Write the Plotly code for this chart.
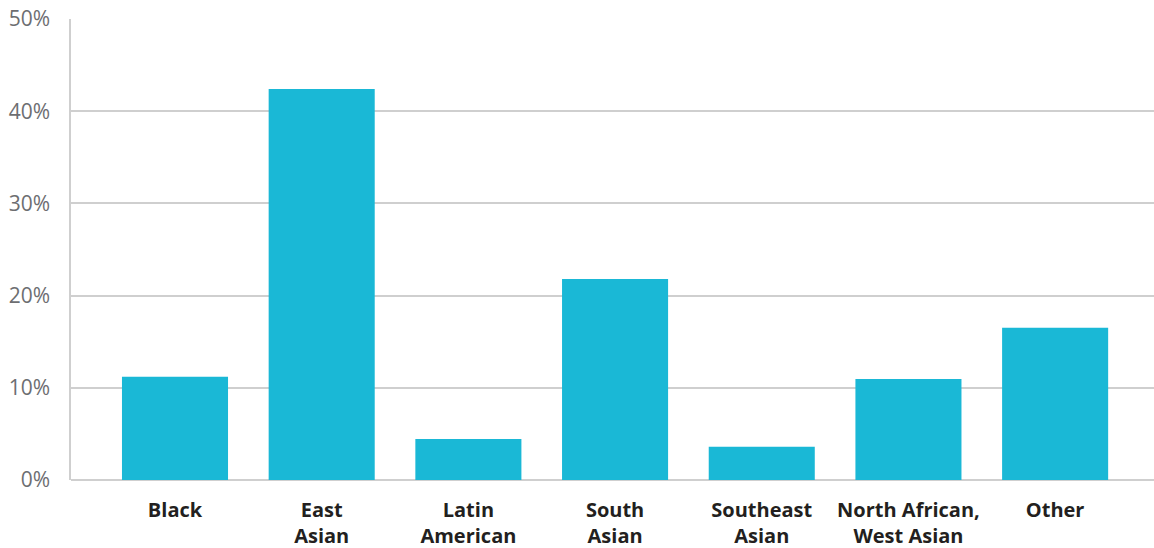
import plotly.graph_objects as go

categories = ["Black", "East<br>Asian", "Latin<br>American", "South<br>Asian",
              "Southeast<br>Asian", "North African,<br>West Asian", "Other"]
values = [11.2, 42.4, 4.45, 21.8, 3.6, 10.95, 16.5]
y_ticks = [0, 10, 20, 30, 40, 50]
y_tick_labels = ["0%", "10%", "20%", "30%", "40%", "50%"]

fig = go.Figure(go.Bar(
    x=list(range(len(categories))), y=values,
    marker=dict(color="#1ab8d6", line=dict(width=0)),
    hoverinfo="skip",
))

fig.update_layout(
    width=1154, height=548,
    margin=dict(l=71, r=0, t=19, b=68),
    paper_bgcolor="white", plot_bgcolor="white",
    bargap=0.277, showlegend=False,
    font=dict(family="Open Sans, Lato, sans-serif"),
)
fig.update_xaxes(
    range=[-0.709, 6.674], automargin=False,
    tickmode="array", tickvals=list(range(len(categories))), ticktext=categories,
    tickfont=dict(size=20, color="#231f20", family="Open Sans, sans-serif", weight="bold"),
    showgrid=False, zeroline=False, showline=False,
    ticks="outside", ticklen=12, tickcolor="rgba(0,0,0,0)",
)
fig.update_yaxes(
    range=[0, 50], automargin=False,
    tickmode="array", tickvals=y_ticks, ticktext=y_tick_labels,
    tickfont=dict(size=21, color="#6d6e71", family="Open Sans, sans-serif"),
    showgrid=True, gridcolor="#cfcfcf", gridwidth=1.5,
    zeroline=True, zerolinecolor="#cfcfcf", zerolinewidth=1.5,
    showline=True, linecolor="#cfcfcf", linewidth=1.5,
    ticks="outside", ticklen=15, tickcolor="rgba(0,0,0,0)",
)

fig.write_html(
    "out.html",
    config={"displayModeBar": False},
    post_script="document.body.style.margin='0';document.body.style.overflow='hidden';",
)
